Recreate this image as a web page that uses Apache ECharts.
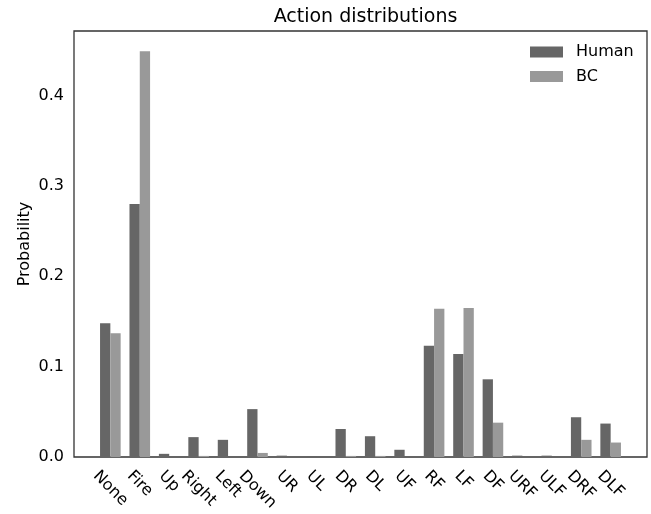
<!DOCTYPE html>
<html>
<head>
<meta charset="utf-8">
<script src="https://cdn.jsdelivr.net/npm/echarts@6/dist/echarts.min.js"></script>
<style>
html,body{margin:0;padding:0;background:#fff;}
#c{width:651px;height:514px;}
</style>
</head>
<body>
<div id="c"></div>
<script>
const categories = ['None','Fire','Up','Right','Left','Down','UR','UL','DR','DL','UF','RF','LF','DF','URF','ULF','DRF','DLF'];
const humanValues = [0.148, 0.280, 0.0035, 0.022, 0.019, 0.053, 0.0015, 0.0003, 0.031, 0.023, 0.008, 0.123, 0.114, 0.086, 0.0015, 0.0015, 0.044, 0.037];
const bcValues = [0.137, 0.449, 0, 0.0012, 0, 0.0045, 0, 0, 0.0012, 0.0012, 0, 0.164, 0.165, 0.038, 0, 0, 0.019, 0.016];
const yTickValues = [0.0, 0.1, 0.2, 0.3, 0.4];
const seriesNames = ['Human', 'BC'];

const FONT = 'DejaVu Sans';
const FS = 16;
const YMAX = 0.4715;

// frame grid geometry
const frameLeft = 74, frameTop = 31, frameW = 573, frameH = 426;
// data grid: 18 category bands, centred like matplotlib with 5% margins
const unit = frameW / (17.7 * 1.1);
const dataLeft = frameLeft + (1.235 - 0.5) * unit;
const dataW = categories.length * unit;

const ctx = document.createElement('canvas').getContext('2d');
ctx.font = FS + 'px "' + FONT + '"';
const rich = {};
categories.forEach((c, i) => {
  const w = ctx.measureText(c).width;
  const p = (w + FS) / 2;
  rich['c' + i] = { padding: [p, 0, 0, p], fontSize: FS, fontFamily: FONT, color: '#000' };
});

const chart = echarts.init(document.getElementById('c'), null, { renderer: 'canvas' });
chart.setOption({
  animation: false,
  backgroundColor: '#fff',
  textStyle: { fontFamily: FONT },
  title: {
    text: 'Action distributions',
    left: frameLeft + frameW / 2,
    textAlign: 'center',
    top: 3,
    textStyle: { fontFamily: FONT, fontSize: 19, fontWeight: 'normal', color: '#000' }
  },
  legend: {
    orient: 'vertical',
    left: 530,
    top: 44,
    padding: 0,
    itemWidth: 33,
    itemHeight: 11,
    itemGap: 8.5,
    icon: 'rect',
    data: seriesNames,
    formatter: '{t|{name}}',
    textStyle: {
      fontFamily: FONT, fontSize: FS, color: '#000',
      rich: { t: { padding: [0, 0, 0, 8], fontFamily: FONT, fontSize: FS, color: '#000' } }
    }
  },
  grid: [
    { left: frameLeft, top: frameTop, width: frameW, height: frameH, show: true,
      borderColor: '#333', borderWidth: 1.3, backgroundColor: 'transparent' },
    { left: dataLeft, top: frameTop, width: dataW, height: frameH }
  ],
  xAxis: [
    { type: 'value', gridIndex: 0, show: false, min: 0, max: 1 },
    {
      type: 'category', gridIndex: 1, data: categories,
      axisLine: { show: false }, axisTick: { show: false },
      axisLabel: {
        interval: 0, rotate: -45, margin: 11,
        align: 'center', verticalAlign: 'middle',
        fontFamily: FONT, fontSize: FS, color: '#000',
        formatter: (v, i) => '{c' + i + '|' + v + '}',
        rich: rich
      }
    }
  ],
  yAxis: [
    {
      type: 'value', gridIndex: 0, min: 0, max: YMAX, interval: 0.1,
      name: 'Probability', nameLocation: 'middle', nameRotate: 90, nameGap: 41,
      nameMoveOverlap: false,
      nameTextStyle: { fontFamily: FONT, fontSize: FS, color: '#000' },
      axisLine: { show: false }, axisTick: { show: false }, splitLine: { show: false },
      axisLabel: {
        margin: 10, fontFamily: FONT, fontSize: FS, color: '#000',
        formatter: v => yTickValues.some(t => Math.abs(t - v) < 1e-6) ? v.toFixed(1) : ''
      }
    },
    { type: 'value', gridIndex: 1, min: 0, max: YMAX, show: false, splitLine: { show: false } }
  ],
  series: [
    { name: seriesNames[0], type: 'bar', xAxisIndex: 1, yAxisIndex: 1, data: humanValues,
      barWidth: 0.35 * unit, barGap: '0%', itemStyle: { color: '#666666' } },
    { name: seriesNames[1], type: 'bar', xAxisIndex: 1, yAxisIndex: 1, data: bcValues,
      barWidth: 0.35 * unit, barGap: '0%', itemStyle: { color: '#999999' } }
  ]
});
</script>
</body>
</html>
